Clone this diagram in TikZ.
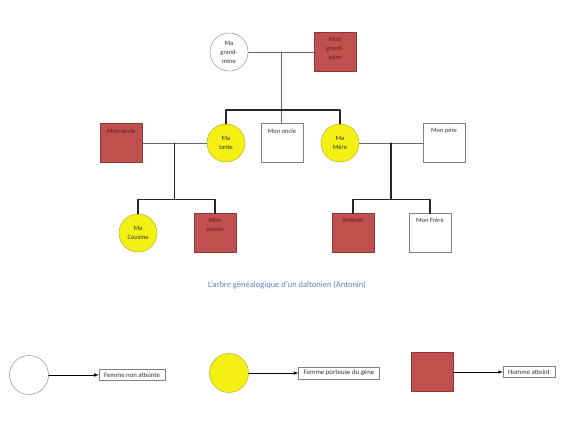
\documentclass[tikz,border=0pt]{standalone}
\usepackage{fontspec}
\setmainfont{Carlito}
\usetikzlibrary{calc}
\definecolor{rougeatteint}{RGB}{192,80,77}
\definecolor{bordrouge}{RGB}{140,56,54}
\definecolor{brunfonce}{RGB}{90,30,28}
\definecolor{jaunegene}{RGB}{245,240,20}
\definecolor{bordjaune}{RGB}{170,165,20}
\definecolor{bleutitre}{RGB}{95,130,190}
\newcommand{\petit}{\fontsize{6.5}{9}\selectfont}
\tikzset{
  femme/.style={circle,draw=gray,fill=white,minimum size=38pt,inner sep=0pt,align=center,font=\petit,text=black!80},
  porteuse/.style={femme,draw=bordjaune,fill=jaunegene},
  homme/.style={rectangle,draw=gray,fill=white,minimum width=42pt,minimum height=39pt,inner sep=0pt},
  atteint/.style={homme,draw=bordrouge,fill=rougeatteint},
  lbl/.style={anchor=north,align=center,font=\petit,inner sep=0pt,yshift=-5pt},
  texte/.style={label={[lbl,text=black!80]north:#1}},
  texterouge/.style={label={[lbl,text=brunfonce]north:#1}},
  mariage/.style={draw=black!60,line width=0.8pt},
  fratrie/.style={draw=black!85,line width=1.3pt},
  legende/.style={rectangle,draw=gray,inner xsep=5pt,inner ysep=3pt,font=\fontsize{6.8}{8}\selectfont,text=black!80},
  fleche/.style={draw=black,line width=0.6pt,-latex}
}
\begin{document}
\begin{tikzpicture}[x=1pt,y=-1pt,line cap=round,line join=round]
  \useasboundingbox (0,0) rectangle (580,431);
  % grands-parents
  \node[femme] (gm) at (229,52) {Ma\\grand-\\mère};
  \node[atteint,texterouge={Mon\\grand-\\père}] (gp) at (335,52) {};
  % deuxieme generation
  \node[atteint,texterouge={Mon oncle}] (oncleA) at (121,143) {};
  \node[porteuse] (tante) at (226,143) {Ma\\tante};
  \node[homme,texte={Mon oncle}] (oncleB) at (282,143) {};
  \node[porteuse] (mere) at (340,143) {Ma\\Mère};
  \node[homme,texte={Mon père}] (pere) at (444,143) {};
  % troisieme generation
  \node[porteuse] (cousine) at (138,233) {Ma\\Cousine};
  \node[atteint,texterouge={Mon\\cousin}] (cousin) at (215,233) {};
  \node[atteint,texterouge={Antonin}] (antonin) at (353,233) {};
  \node[homme,texte={Mon Frère}] (frere) at (430,233) {};
  % liens
  \draw[mariage] (gm) -- (gp);
  \coordinate (gpj) at ($(gm.east)!0.5!(gp.west)$);
  \draw[mariage] (gpj) -- (gpj |- oncleB.north);
  \coordinate (barre1) at ($(gpj)+(0,58)$);
  \draw[fratrie] (tante.north) |- (barre1) -| (mere.north);
  \draw[mariage] (oncleA) -- (tante);
  \coordinate (famA) at ($(oncleA.east)!0.5!(tante.west)$);
  \coordinate (barre2) at ($(cousine.north)!0.5!(cousin.north)+(0,-14)$);
  \draw[fratrie] (famA) -- (famA |- barre2);
  \draw[fratrie] (cousine.north) |- (barre2) -| (cousin.north);
  \draw[mariage] (mere) -- (pere);
  \coordinate (famB) at ($(mere.east)!0.5!(pere.west)$);
  \coordinate (barre3) at ($(antonin.north)!0.5!(frere.north)+(0,-14)$);
  \draw[fratrie] (famB) -- (famB |- barre3);
  \draw[fratrie] (antonin.north) |- (barre3) -| (frere.north);
  % titre
  \node[font=\fontsize{8.5}{10}\selectfont,text=bleutitre] (titre) at (287,285) {L'arbre généalogique d'un daltonien (Antonin)};
  % legende
  \node[femme,minimum size=39pt] (lfemme) at (29,375) {};
  \node[legende] (tfemme) at (132,375) {Femme non atteinte};
  \draw[fleche] (lfemme) -- (tfemme);
  \node[porteuse,minimum size=39pt] (lporteuse) at (229,373) {};
  \node[legende] (tporteuse) at (339,373) {Femme porteuse du gène};
  \draw[fleche] (lporteuse) -- (tporteuse);
  \node[atteint] (lhomme) at (432,372) {};
  \node[legende] (thomme) at (529,372) {Homme atteint};
  \draw[fleche] (lhomme) -- (thomme);
\end{tikzpicture}
\end{document}
